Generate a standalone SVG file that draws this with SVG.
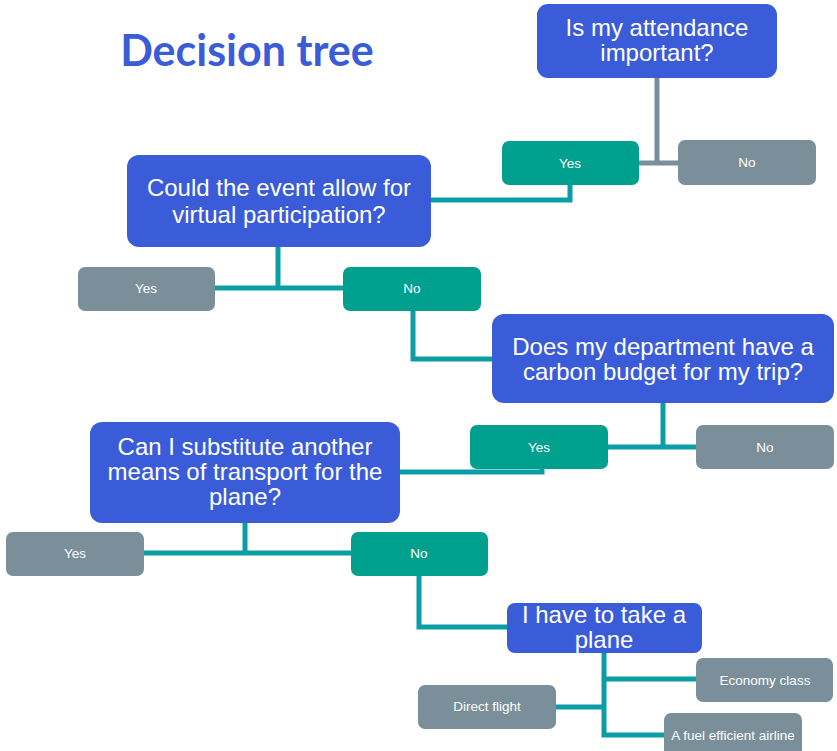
<svg xmlns="http://www.w3.org/2000/svg" width="837" height="751" viewBox="0 0 837 751">
<style>
.q{fill:#3b5cd8}
.t{fill:#00a08f}
.g{fill:#7a8f99}
.qt{font-family:"Liberation Sans",Arial,sans-serif;font-size:24px;fill:#fff;text-anchor:middle}
.st{font-family:"Liberation Sans",Arial,sans-serif;font-size:13.5px;fill:#fff;text-anchor:middle}
.c{fill:none;stroke:#0a9da5;stroke-width:5}
.cg{fill:none;stroke:#7a8f99;stroke-width:5}
</style>
<rect width="837" height="751" fill="#fff"/>
<text x="247" y="66" font-family="Lato,sans-serif" font-weight="bold" font-size="43" fill="#3b5cd8" text-anchor="middle">Decision tree</text>
<g id="connectors">
<path class="cg" d="M657 78V163M639 163H678"/>
<path class="c" d="M570 185V200H430"/>
<path class="c" d="M278 247V288M215 288H343"/>
<path class="c" d="M413 311V359H492"/>
<path class="c" d="M663 403V447M608 447H696"/>
<path class="c" d="M542 469V472H400"/>
<path class="c" d="M245 523V553M144 553H351"/>
<path class="c" d="M419 576V627H507"/>
<path class="c" d="M604 653V735H664M604 679H696M556 707H604"/>
</g>
<g id="q1"><rect class="q" x="537" y="4" width="240" height="74" rx="11"/><text class="qt" x="657" y="36">Is my attendance</text><text class="qt" x="657" y="61">important?</text></g>
<g id="yes1"><rect class="t" x="502" y="141" width="137" height="44" rx="7"/><text class="st" x="570" y="168">Yes</text></g>
<g id="no1"><rect class="g" x="678" y="140" width="138" height="45" rx="7"/><text class="st" x="747" y="167">No</text></g>
<g id="q2"><rect class="q" x="127" y="155" width="304" height="92" rx="12"/><text class="qt" x="279" y="196">Could the event allow for</text><text class="qt" x="279" y="223">virtual participation?</text></g>
<g id="yes2"><rect class="g" x="78" y="267" width="137" height="44" rx="7"/><text class="st" x="146" y="293">Yes</text></g>
<g id="no2"><rect class="t" x="343" y="267" width="138" height="44" rx="7"/><text class="st" x="412" y="293">No</text></g>
<g id="q3"><rect class="q" x="492" y="314" width="342" height="89" rx="12"/><text class="qt" x="663" y="355">Does my department have a</text><text class="qt" x="663" y="380">carbon budget for my trip?</text></g>
<g id="yes3"><rect class="t" x="470" y="425" width="138" height="44" rx="7"/><text class="st" x="539" y="452">Yes</text></g>
<g id="no3"><rect class="g" x="696" y="425" width="138" height="44" rx="7"/><text class="st" x="765" y="452">No</text></g>
<g id="q4"><rect class="q" x="90" y="422" width="310" height="101" rx="12"/><text class="qt" x="245" y="455">Can I substitute another</text><text class="qt" x="245" y="480">means of transport for the</text><text class="qt" x="245" y="505">plane?</text></g>
<g id="yes4"><rect class="g" x="6" y="532" width="138" height="44" rx="7"/><text class="st" x="75" y="558">Yes</text></g>
<g id="no4"><rect class="t" x="351" y="532" width="137" height="44" rx="7"/><text class="st" x="419" y="558">No</text></g>
<g id="q5"><rect class="q" x="507" y="603" width="195" height="50" rx="8"/><text class="qt" x="604" y="623">I have to take a</text><text class="qt" x="604" y="648">plane</text></g>
<g id="economy"><rect class="g" x="696" y="658" width="137" height="44" rx="7"/><text class="st" x="765" y="685">Economy class</text></g>
<g id="direct"><rect class="g" x="418" y="685" width="138" height="44" rx="7"/><text class="st" x="487" y="711">Direct flight</text></g>
<g id="airline"><rect class="g" x="664" y="713" width="138" height="44" rx="7"/><text class="st" x="733" y="740">A fuel efficient airline</text></g>
</svg>
